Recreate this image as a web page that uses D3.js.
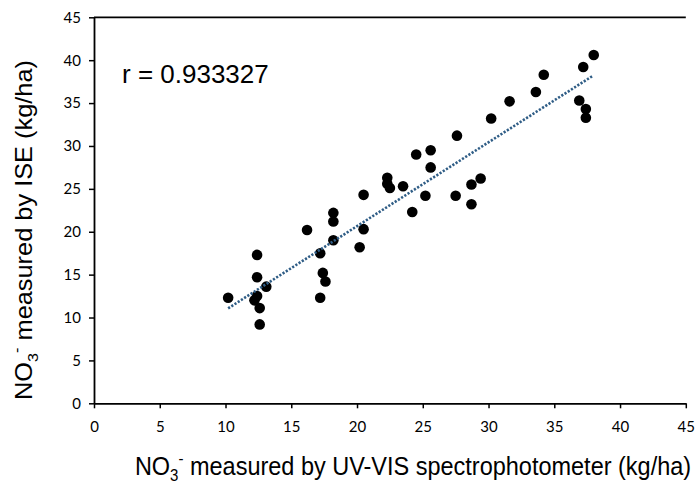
<!DOCTYPE html>
<html>
<head>
<meta charset="utf-8">
<script src="https://cdn.jsdelivr.net/npm/d3@7"></script>
<style>
  html, body { margin: 0; padding: 0; background: #fff; }
  svg { display: block; }
</style>
</head>
<body>
<svg id="chart" width="695" height="484"></svg>
<script>
// UV-VIS spectrophotometer values (kg/ha)
const uvvis = [10.2, 12.4, 12.4, 12.2, 12.4, 12.6, 12.6, 13.1, 16.2, 17.2, 17.4, 17.6, 17.2,
  18.2, 18.2, 18.2, 20.2, 20.5, 20.5, 22.3, 22.3, 22.5, 23.5, 24.2, 24.5, 25.2, 25.6, 25.6,
  27.5, 27.6, 28.7, 28.7, 29.4, 30.2, 31.6, 33.6, 34.2, 36.9, 37.2, 37.4, 37.4, 38.0];
// ISE values (kg/ha)
const ise = [12.3, 17.3, 14.7, 12.0, 12.5, 11.1, 9.2, 13.6, 20.2, 17.5, 15.2, 14.2, 12.3,
  22.2, 21.2, 19.0, 18.2, 20.3, 24.3, 26.3, 25.6, 25.1, 25.3, 22.3, 29.0, 24.2, 29.5, 27.5,
  24.2, 31.2, 25.5, 23.2, 26.2, 33.2, 35.2, 36.3, 38.3, 35.3, 39.2, 34.3, 33.3, 40.6];
// linear trendline endpoints
const trendX = [10.2, 37.9];
const trendY = [11.07, 38.15];
const tickValues = [0, 5, 10, 15, 20, 25, 30, 35, 40, 45];
const rLabel = "r = 0.933327";

const svg = d3.select("#chart");
const x = d3.scaleLinear().domain([0, 45]).range([94, 685.8]);
const y = d3.scaleLinear().domain([0, 45]).range([403.3, 17.3]);

const tickFont = "Lato, 'Open Sans', sans-serif";
const titleFont = "'Liberation Sans', Arial, sans-serif";

// top border
svg.append("line")
  .attr("x1", x(0)).attr("x2", x(45))
  .attr("y1", y(45)).attr("y2", y(45))
  .attr("stroke", "#000").attr("stroke-width", 1.8);

const xAxis = svg.append("g")
  .attr("transform", `translate(0,${y(0)})`)
  .call(d3.axisBottom(x).tickValues(tickValues).tickSize(5).tickSizeOuter(0).tickPadding(13));
const yAxis = svg.append("g")
  .attr("transform", `translate(${x(0)},0)`)
  .call(d3.axisLeft(y).tickValues(tickValues).tickSize(5).tickSizeOuter(0).tickPadding(8));

[xAxis, yAxis].forEach(g => {
  g.select(".domain").attr("stroke", "#000").attr("stroke-width", 1.8);
  g.selectAll(".tick line").attr("stroke", "#000").attr("stroke-width", 1.5);
  g.selectAll(".tick text").attr("fill", "#000")
    .style("font-family", tickFont).style("font-size", "15px");
});

// points
svg.append("g").selectAll("circle")
  .data(uvvis.map((v, i) => [v, ise[i]]))
  .join("circle")
  .attr("cx", d => x(d[0]))
  .attr("cy", d => y(d[1]))
  .attr("r", 5.3)
  .attr("fill", "#000");

// trendline
svg.append("line")
  .attr("x1", x(trendX[0])).attr("y1", y(trendY[0]))
  .attr("x2", x(trendX[1])).attr("y2", y(trendY[1]))
  .attr("stroke", "#2f5d86")
  .attr("stroke-width", 2.6)
  .attr("stroke-dasharray", "2.2,1.6");

// r label
svg.append("text")
  .attr("x", 122).attr("y", 83)
  .style("font-family", titleFont).style("font-size", "26px")
  .attr("fill", "#000")
  .text(rLabel);

// x title
const xt = svg.append("text")
  .attr("transform", `translate(${(136 + 690) / 2},475) scale(1,1.08)`)
  .attr("text-anchor", "middle")
  .style("font-family", titleFont).style("font-size", "23.5px")
  .attr("fill", "#000");
xt.append("tspan").text("NO");
xt.append("tspan").attr("dy", 6).style("font-size", "15px").text("3");
xt.append("tspan").attr("dy", -16).style("font-size", "15px").text("-");
xt.append("tspan").attr("dy", 10).text(" measured by UV-VIS spectrophotometer (kg/ha)");

// y title
const yt = svg.append("text")
  .attr("transform", "translate(32,230) rotate(-90) scale(1.08,1)")
  .attr("text-anchor", "middle")
  .style("font-family", titleFont).style("font-size", "23.5px")
  .attr("fill", "#000");
yt.append("tspan").text("NO");
yt.append("tspan").attr("dy", 6).style("font-size", "15px").text("3");
yt.append("tspan").attr("dy", -16).style("font-size", "15px").text("-");
yt.append("tspan").attr("dy", 10).text(" measured by ISE (kg/ha)");
</script>
</body>
</html>
